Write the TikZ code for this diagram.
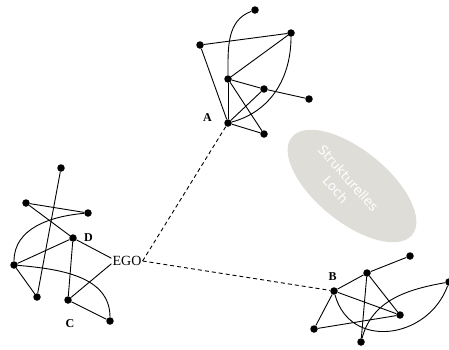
\documentclass[tikz,border=0pt]{standalone}
\usepackage{fontspec}
\setmainfont{Liberation Serif}
\newfontfamily\holefont{DejaVu Sans}
\usetikzlibrary{shapes.geometric}
\definecolor{holegray}{RGB}{222,221,216}
\begin{document}
\begin{tikzpicture}
    [
    x=1pt,y=1pt,
    point/.style={circle,fill=black,inner sep=0pt,minimum size=7.5pt},
    tie/.style={line width=0.9pt},
    bridge/.style={line width=0.9pt,dash pattern=on 4pt off 3pt},
    letter/.style={font=\bfseries\fontsize{12}{12}\selectfont,inner sep=0pt},
    hole/.style={ellipse,fill=holegray,inner sep=0pt,minimum width=155pt,minimum height=72pt,rotate=-39},
    every label/.style={letter}
    ]
    \useasboundingbox (0,0) rectangle (449,-349);

    \node (hole) at (352,-186) [hole] {};
    \node (holetext) at (342,-184) [rotate=-48,text=white,align=center,font=\holefont\fontsize{13}{17}\selectfont] {Strukturelles\\Loch};

    \node (a0) at (255,-10) [point] {};
    \node (a1) at (200,-45) [point] {};
    \node (a2) at (291,-33) [point] {};
    \node (a3) at (228,-79) [point] {};
    \node (a4) at (264,-89) [point] {};
    \node (a5) at (309,-99) [point] {};
    \node (a6) at (228,-123) [point,label={[label distance=12pt,yshift=5pt]left:A}] {};
    \node (a7) at (264,-134) [point] {};
    \draw [tie] (a0) to [out=200,in=90] (a3);
    \draw [tie] (a1) to (a2);
    \draw [tie] (a1) to (a6);
    \draw [tie] (a3) to (a2);
    \draw [tie] (a3) to (a6);
    \draw [tie] (a3) to (a4);
    \draw [tie] (a4) to (a5);
    \draw [tie] (a3) to (a7);
    \draw [tie] (a6) to (a4);
    \draw [tie] (a6) to (a7);
    \draw [tie] (a2) to [out=270,in=15] (a6);

    \node (ego) at (127,-261) [inner sep=1pt,font=\fontsize{14}{14}\selectfont] {EGO};
    \node (e0) at (61,-168) [point] {};
    \node (e1) at (26,-203) [point] {};
    \node (e2) at (88,-213) [point] {};
    \node (e3) at (73,-238) [point,label={[label distance=7pt]right:D}] {};
    \node (e4) at (14,-265) [point] {};
    \node (e5) at (37,-297) [point] {};
    \node (e6) at (68,-300) [point,label={[label distance=15pt,xshift=2pt]below:C}] {};
    \node (e7) at (110,-321) [point] {};
    \draw [tie] (e0) to (e5);
    \draw [tie] (e1) to (e2);
    \draw [tie] (e1) to (e3);
    \draw [tie] (e2) to [out=185,in=90] (e4);
    \draw [tie] (e4) to (e3);
    \draw [tie] (e3) to (ego.170);
    \draw [tie] (e3) to (e6);
    \draw [tie] (e4) to (e5);
    \draw [tie] (e4) to [out=-5,in=90] (e7);
    \draw [tie] (e6) to (e7);
    \draw [tie] (ego.190) to (e6);

    \node (b0) at (334,-291) [point,label={[label distance=6.5pt,xshift=-1.5pt]above:B}] {};
    \node (b1) at (367,-273) [point] {};
    \node (b2) at (410,-256) [point] {};
    \node (b3) at (400,-315) [point] {};
    \node (b4) at (314,-329) [point] {};
    \node (b5) at (361,-342) [point] {};
    \node (b6) at (449,-282) [point] {};
    \draw [tie] (b0) to (b1);
    \draw [tie] (b1) to (b2);
    \draw [tie] (b0) to (b3);
    \draw [tie] (b0) to (b4);
    \draw [tie] (b1) to (b5);
    \draw [tie] (b1) to (b3);
    \draw [tie] (b4) to (b3);
    \draw [tie] (b5) to [out=75,in=190] (b6);
    \draw [tie] (b0) to [out=-75,in=-110,looseness=1.3] (b6);

    \draw [bridge] (ego.east) to (a6);
    \draw [bridge] (ego.east) to (b0);
\end{tikzpicture}
\end{document}
